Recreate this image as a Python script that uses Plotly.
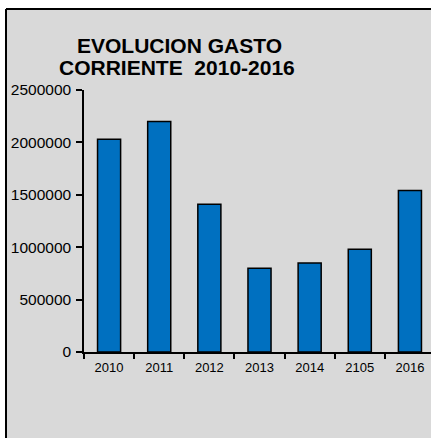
import plotly.graph_objects as go

categories = ["2010", "2011", "2012", "2013", "2014", "2105", "2016"]
values = [2030000, 2200000, 1410000, 800000, 850000, 980000, 1540000]
y_ticks = [0, 500000, 1000000, 1500000, 2000000, 2500000]
title_lines = ["EVOLUCION GASTO", "CORRIENTE  2010-2016"]

W, H = 431, 438
L, R, T, B = 84, 0, 90, 86
pw, ph = W - L - R, H - T - B

fig = go.Figure()
fig.add_trace(go.Bar(
    x=categories, y=values, width=0.46,
    marker=dict(color="#0070C0", line=dict(color="black", width=1.5)),
))

def px_x(v):
    return (v - L) / pw

def px_y(v):
    return (H - B - v) / ph

# white margin outside the frame
fig.add_shape(type="rect", xref="paper", yref="paper", layer="below",
              x0=px_x(0), x1=px_x(W), y0=px_y(9), y1=px_y(0),
              fillcolor="white", line=dict(width=0))
fig.add_shape(type="rect", xref="paper", yref="paper", layer="below",
              x0=px_x(0), x1=px_x(6), y0=px_y(H), y1=px_y(0),
              fillcolor="white", line=dict(width=0))
# frame lines (left and top)
fig.add_shape(type="line", xref="paper", yref="paper", layer="below",
              x0=px_x(6), x1=px_x(W + 5), y0=px_y(9), y1=px_y(9),
              line=dict(color="black", width=2))
fig.add_shape(type="line", xref="paper", yref="paper", layer="below",
              x0=px_x(6), x1=px_x(6), y0=px_y(H + 5), y1=px_y(9),
              line=dict(color="black", width=2))

title_pos = [(179.5, 45.5), (177, 67)]
for txt, (cx, cy) in zip(title_lines, title_pos):
    fig.add_annotation(text="<b>" + txt + "</b>", xref="paper", yref="paper",
                       x=px_x(cx), y=px_y(cy), xanchor="center",
                       yanchor="middle", showarrow=False,
                       font=dict(size=21, color="black"))

fig.update_layout(
    width=W, height=H,
    margin=dict(l=L, r=R, t=T, b=B),
    paper_bgcolor="#d9d9d9", plot_bgcolor="rgba(0,0,0,0)",
    showlegend=False,
    font=dict(family="Arial, Liberation Sans, sans-serif", color="black"),
)
fig.update_xaxes(type="category", range=[-0.5, 6.42], showline=True, linecolor="black",
                 linewidth=1.5, ticks="outside", tickson="boundaries", ticklen=5,
                 tickcolor="black", tickwidth=1.5, tickfont=dict(size=13), showgrid=False,
                 ticklabelstandoff=3)
fig.update_yaxes(range=[0, 2500000], tickvals=y_ticks, ticktext=[str(v) for v in y_ticks],
                 showline=True, linecolor="black", linewidth=1.5, ticks="outside",
                 ticklen=6, tickcolor="black", tickwidth=1.5, tickfont=dict(size=15.5),
                 showgrid=False, zeroline=False, ticklabelstandoff=2)

fig.write_html("out.html", config={"displayModeBar": False},
               post_script="document.body.style.margin='0';document.body.style.overflow='hidden';")
